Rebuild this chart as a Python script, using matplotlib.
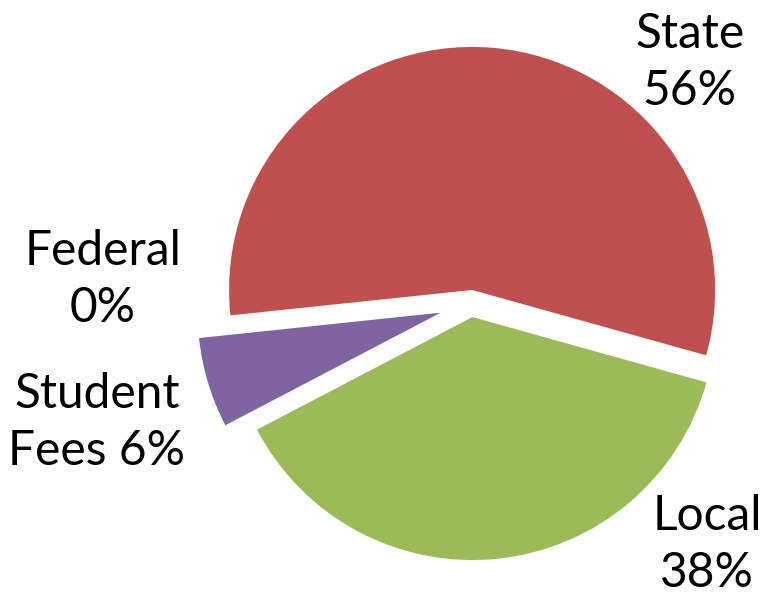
"""
pie of revenue sources, with the slices pulled apart
"""

import matplotlib
matplotlib.use('Agg')
import matplotlib.pyplot as plt

sources = ['Federal', 'State', 'Local', 'Student Fees']
shares = [0, 56, 38, 6]
label_text = ['Federal\n0%', 'State\n56%', 'Local\n38%', 'Student\nFees 6%']
colors = ['#4F81BD', '#C0504D', '#9BBB59', '#8064A2']

# how far each slice is pulled out from the middle
explode = [0.25, 0.056, 0.056, 0.13]

# where the labels sit (data units, radius = 1)
label_pos = [(-1.514, 0.10), (0.90, 0.99), (0.971, -0.99), (-1.539, -0.49)]

fig = plt.figure(figsize=(7.66, 6.0), dpi=100)
ax = fig.add_axes([0, 0, 1, 1])

ax.pie(shares, colors=colors, explode=explode, startangle=186,
       counterclock=False, radius=1.0,
       wedgeprops=dict(linewidth=0))

for txt, (x, y) in zip(label_text, label_pos):
    ax.text(x, y, txt, ha='center', va='center', fontsize=34.5,
            family=['Lato', 'DejaVu Sans'], color='black', linespacing=1.36)

ax.set_xlim(-1.938, 1.214)
ax.set_ylim(-1.220, 1.249)
ax.set_aspect('equal')
ax.axis('off')

fig.savefig('out.png', dpi=100)
